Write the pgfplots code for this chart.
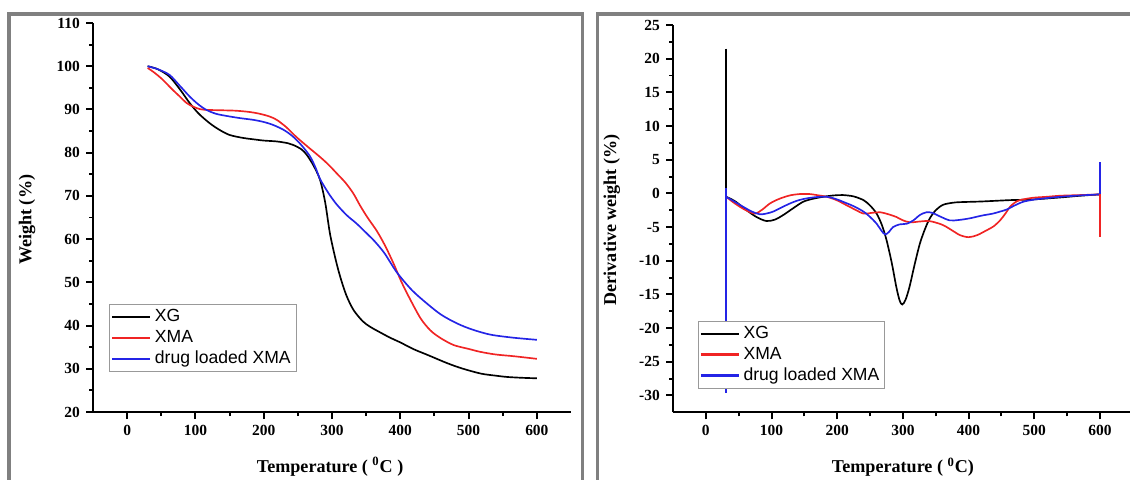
\documentclass[border=0pt]{standalone}
\usepackage{fontspec}
\setmainfont{Liberation Serif}
\newfontfamily\legfont{Liberation Sans}
\usepackage{pgfplots}
\pgfplotsset{compat=1.18}
\definecolor{framegray}{HTML}{808080}
\definecolor{tgared}{HTML}{F02424}
\definecolor{tgablue}{HTML}{2424E6}

\pgfplotsset{
  tgastyle/.style={
    scale only axis,
    axis lines=left,
    axis line style={-, line width=1.1pt},
    tick align=outside,
    major tick length=0.14cm,
    minor tick length=0.08cm,
    tick style={black, line width=1.1pt},
    minor tick num=1,
    tick label style={font=\bfseries\fontsize{8.8}{10}\selectfont},
    /pgf/number format/assume math mode=true,
    xmin=-50, xmax=650,
    xtick={0,100,...,600},
    label style={font=\bfseries\fontsize{10.3}{12}\selectfont},
    legend cell align=left,
    legend image code/.code={%
      \draw[#1, line width=1.3pt] (0cm,0cm) -- (0.76cm,0cm);},
    legend style={draw=gray!80, line width=0.4pt,
      font=\legfont\fontsize{10}{11}\selectfont,
      row sep=-0.6pt, inner xsep=1pt, inner ysep=1pt},
    every axis plot/.append style={line width=0.95pt},
  }
}

\begin{document}
\begin{tikzpicture}
  \useasboundingbox (0,0) rectangle (22.6,9.58);
  \clip (0,0) rectangle (22.6,9.58);
  % panel frames
  \draw[framegray, line width=0.066cm] (0.18,-0.5) -- (0.18,9.3) -- (11.65,9.3) -- (11.65,-0.5);
  \draw[framegray, line width=0.066cm] (11.946,-0.5) -- (11.946,9.3) -- (23,9.3);

  % left: TGA curves
  \begin{axis}[
    tgastyle,
    at={(1.86cm,1.34cm)}, anchor=south west,
    width=9.56cm, height=7.78cm,
    ymin=20, ymax=110,
    ytick={20,30,...,110},
    xlabel={Temperature ( \textsuperscript{0}C )},
    ylabel={Weight (\%)},
    xlabel style={at={(axis description cs:0.496,-0.141)}, anchor=center},
    ylabel style={at={(axis description cs:-0.138,0.494)}, anchor=center},
    legend style={at={(rel axis cs:0.0335,0.278)}, anchor=north west},
  ]
    \addplot[black, smooth] coordinates {
      (30,100) (45,99.3) (62,97.6) (78,94.5) (91.5,91.5) (105,89) (121,86.8)
      (135,85.3) (150,84.1) (170,83.4) (184.5,83.1) (200,82.8) (219,82.6)
      (235,82.2) (243,81.8) (255,80.8) (263,79.5) (273,77) (282.5,73.7)
      (290,68.5) (297,61.3) (305,55.5) (312,51.3) (321,47) (331.5,43.6)
      (345,41) (356,39.7) (370.7,38.4) (385,37.2) (400,36.1) (420,34.5)
      (440,33.2) (468.7,31.3) (490,30.1) (517.6,28.9) (540,28.4) (557,28.1)
      (580,27.9) (600,27.8)
    };
    \addlegendentry{XG}
    \addplot[tgared, smooth] coordinates {
      (30,99.6) (40,98.5) (52,96.9) (65,94.8) (77,93) (87,91.5) (96,90.7)
      (106,90.1) (116,89.9) (140,89.8) (160,89.7) (180,89.4) (194,89)
      (208,88.4) (219,87.6) (233,85.9) (248,83.6) (265,81.3) (282.5,79)
      (295,77.2) (307,75.2) (320,73) (331.5,70.5) (341,67.8) (352,65)
      (366,61.8) (378,58.4) (390,54.4) (402,50) (415,45.9) (430,41.6)
      (444,38.9) (458,37.2) (478,35.5) (500,34.6) (517.6,33.9) (540,33.3)
      (566.6,32.9) (600,32.3)
    };
    \addlegendentry{XMA}
    \addplot[tgablue, smooth] coordinates {
      (30,100) (45,99.3) (62,98) (77,95.5) (91.5,93) (104,91.2) (116,89.9)
      (130,89) (145.5,88.5) (165,88) (184.5,87.6) (200,87.1) (214,86.4)
      (230,85.2) (243,83.7) (256,81.6) (268,79.1) (276,76.5) (282.5,73.9)
      (295,70.6) (307,68) (321.8,65.5) (336,63.6) (351,61.3) (363,59.4)
      (377,56.7) (395,52.3) (417,48.2) (439,45.1) (460,42.5) (483,40.5)
      (505,39.1) (532,37.9) (565,37.2) (600,36.7)
    };
    \addlegendentry{drug loaded XMA}
  \end{axis}

  % right: DTG curves
  \begin{axis}[
    tgastyle,
    at={(13.46cm,1.334cm)}, anchor=south west,
    width=9.196cm, height=7.746cm,
    ymin=-32.5, ymax=25,
    ytick={-30,-25,...,25},
    xlabel={Temperature ( \textsuperscript{0}C)},
    ylabel={Derivative weight (\%)},
    xlabel style={at={(axis description cs:0.5,-0.142)}, anchor=center},
    ylabel style={at={(axis description cs:-0.133,0.497)}, anchor=center},
    legend style={at={(rel axis cs:0.0537,0.2365)}, anchor=north west},
  ]
    \addplot[black, smooth] coordinates {
      (31,-0.5) (45,-1.2) (62,-2.5) (77,-3.5) (92,-4.1) (105,-3.9) (118,-3.2)
      (133,-2.2) (148,-1.25) (163,-0.8) (179,-0.5) (195,-0.3) (209,-0.25)
      (225,-0.45) (240,-1.0) (250,-1.8) (260,-3.0) (268,-4.7) (275,-6.9)
      (283,-10.3) (290,-13.9) (295,-15.9) (299,-16.5) (304,-15.8) (310,-13.9)
      (318,-10.5) (326,-7.4) (334,-5.2) (341,-3.7) (350,-2.5) (361,-1.7)
      (375,-1.4) (387,-1.3) (420,-1.2) (463,-1.0) (498,-0.9) (540,-0.6)
      (570,-0.35) (600,-0.15)
    };
    \addlegendentry{XG}
    \addplot[tgared, smooth] coordinates {
      (31,-0.5) (40,-1.2) (52,-2.0) (63,-2.6) (75,-3.0) (86,-2.4) (97.5,-1.5)
      (112,-0.8) (128,-0.3) (143,-0.1) (158,-0.1) (172,-0.3) (184,-0.5)
      (199,-1.0) (214,-1.75) (227,-2.4) (240,-3.0) (252,-2.9) (265,-2.8)
      (278,-3.1) (290,-3.5) (300,-4.0) (311,-4.3) (323,-4.2) (336,-4.1)
      (345,-4.2) (361,-4.7) (375,-5.5) (387,-6.2) (400,-6.5) (413,-6.2)
      (427,-5.5) (438,-4.9) (448,-4.0) (456,-3.0) (463,-2.0) (470,-1.4)
      (478,-1.0) (498,-0.65) (520,-0.5) (539,-0.35) (570,-0.25) (600,-0.15)
    };
    \addlegendentry{XMA}
    \addplot[tgablue, smooth] coordinates {
      (31,-0.5) (43,-1.2) (57,-2.0) (70,-2.7) (82,-3.1) (92,-3.0) (102.5,-2.7)
      (115,-2.1) (128,-1.5) (140,-1.05) (153,-0.75) (168,-0.55) (184,-0.5)
      (197,-0.8) (209,-1.25) (225,-1.9) (240,-2.7) (250,-3.5) (260,-4.5)
      (267,-5.5) (273,-6.1) (279,-5.7) (285,-5.0) (295,-4.6) (306,-4.5)
      (316,-4.0) (326,-3.2) (336,-2.8) (345,-2.9) (356,-3.4) (371,-4.0)
      (385,-3.95) (402,-3.7) (420,-3.3) (437,-3.0) (448,-2.7) (458,-2.4)
      (470,-1.8) (483,-1.25) (498,-0.95) (514,-0.75) (540,-0.5) (570,-0.3)
      (600,-0.15)
    };
    \addlegendentry{drug loaded XMA}
    % end spikes of the recorded traces
    \addplot[black, line width=1.1pt, forget plot] coordinates {(30,21.5) (30,-0.5)};
    \addplot[tgablue, line width=1.2pt, forget plot] coordinates {(30,0.8) (30,-29.7)};
    \addplot[tgablue, line width=1.2pt, forget plot] coordinates {(600,-0.15) (600,4.7)};
    \addplot[tgared, line width=1.2pt, forget plot] coordinates {(600,-0.15) (600,-6.5)};
  \end{axis}
\end{tikzpicture}
\end{document}
